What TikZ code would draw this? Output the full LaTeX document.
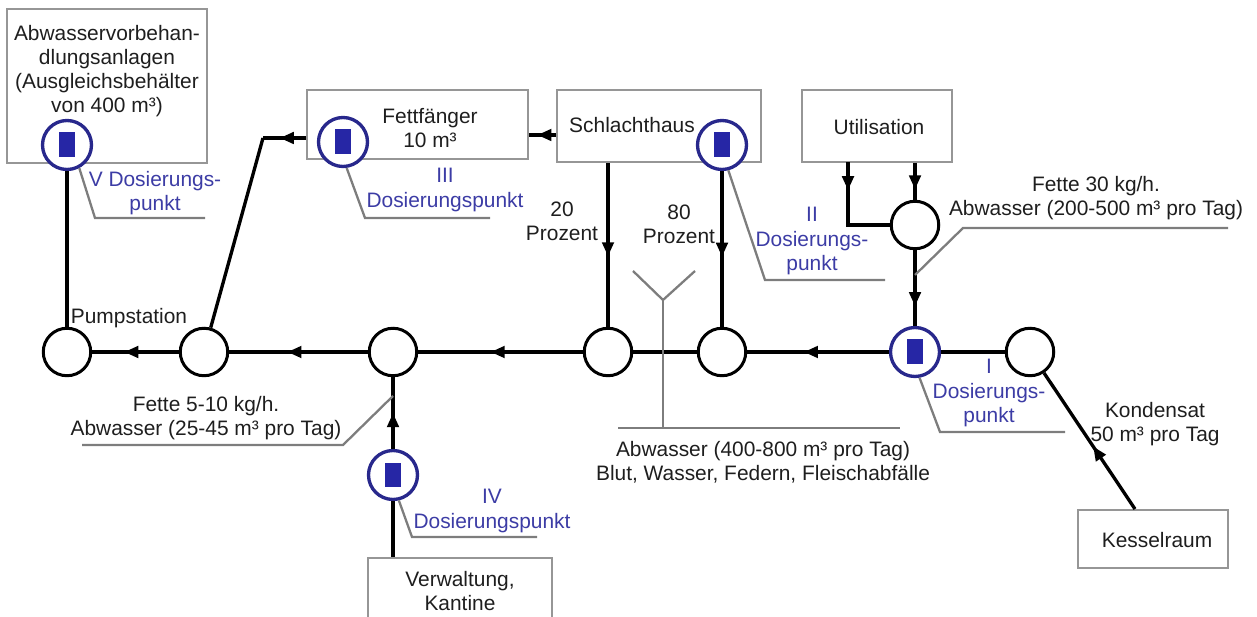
\documentclass[tikz,border=0pt]{standalone}
\usepackage{fontspec}
\setmainfont{Liberation Sans}
\usetikzlibrary{arrows.meta,decorations.markings}
\definecolor{dblue}{RGB}{40,40,140}
\definecolor{dfill}{RGB}{38,38,165}
\definecolor{dtext}{RGB}{60,60,165}
\definecolor{lgray}{RGB}{125,125,125}
\definecolor{bgray}{RGB}{150,150,150}
\definecolor{tgray}{RGB}{30,30,30}
\begin{document}
\begin{tikzpicture}[x=0.02cm,y=-0.02cm,
  box/.style={draw=bgray, line width=1.1pt, inner sep=0pt},
  pipe/.style={line width=1.9pt},
  junc/.style={circle, draw, line width=1.7pt, fill=white, minimum size=0.95cm, inner sep=0pt},
  dose/.style={circle, draw=dblue, line width=1.9pt, fill=white, minimum size=0.98cm, inner sep=0pt,
    path picture={\fill[dfill] (path picture bounding box.center) ++(-0.16cm,-0.25cm) rectangle ++(0.32cm,0.5cm);}},
  flow/.style={postaction={decorate}, decoration={markings, mark=at position #1 with {\arrow{Triangle[length=8pt,width=6.5pt]}}}},
  lead/.style={draw=lgray, line width=1.3pt},
  txt/.style={align=center, font=\fontsize{11.9}{13.8}\selectfont, inner sep=0pt, text=tgray},
  btxt/.style={txt, text=dtext},
]
\useasboundingbox (0,0) rectangle (1257,617);
\clip (0,0) rectangle (1257,617);

% boxes
\node[box, minimum width=4cm, minimum height=3.08cm] (avb) at (107,86) {};
\node[txt] (avbt) at (107,71) {Abwasservorbehan-\\dlungsanlagen\\(Ausgleichsbehälter\\von 400 m³)};
\node[box, minimum width=4.42cm, minimum height=1.38cm] (fett) at (417.5,124.5) {};
\node[txt] (fettt) at (430,128) {Fettfänger\\10 m³};
\node[box, minimum width=4.08cm, minimum height=1.44cm] (schl) at (659,126) {};
\node[txt] (schlt) at (632,125) {Schlachthaus};
\node[box, minimum width=3cm, minimum height=1.44cm] (util) at (877,126) {};
\node[txt] (utilt) at (879,127) {Utilisation};
\node[box, minimum width=3cm, minimum height=1.16cm] (kessel) at (1153,539) {};
\node[txt] (kesselt) at (1157,540) {Kesselraum};
\node[box, minimum width=3.68cm, minimum height=1.64cm] (verw) at (460,599) {};
\node[txt] (verwt) at (460,591) {Verwaltung,\\Kantine};

% junction circles
\node[junc] (c1) at (67,352) {};
\node[junc] (c2) at (204,352) {};
\node[junc] (c3) at (393,352) {};
\node[junc] (c4) at (608,352) {};
\node[junc] (c5) at (722,352) {};
\node[junc] (c6) at (1030,352) {};
\node[junc] (cu) at (915,225) {};

% dosing points
\node[dose] (dV) at (67,145) {};
\node[dose] (dIII) at (343,142) {};
\node[dose] (dII) at (722,145) {};
\node[dose] (dI) at (915,352) {};
\node[dose] (dIV) at (393,475) {};

% helper coordinates
\coordinate (sfy) at (0,135);
\coordinate (fk) at (263,138);
\coordinate (ul) at (848,162);

% pipes
\draw[pipe] (dV.south) -- (c1.north);
\draw[pipe,flow=0.63] (c2.west) -- (c1.east);
\draw[pipe,flow=0.58] (c3.west) -- (c2.east);
\draw[pipe,flow=0.56] (c4.west) -- (c3.east);
\draw[pipe] (c5.west) -- (c4.east);
\draw[pipe,flow=0.6] (dI.west) -- (c5.east);
\draw[pipe] (c6.west) -- (dI.east);
\draw[pipe,flow=0.46] ([xshift=-0.36cm]kessel.north) -- (c6);
\draw[pipe,flow=0.57] (c4.north |- schl.south) -- (c4.north);
\draw[pipe,flow=0.55] (dII.south) -- (c5.north);
\draw[pipe,flow=0.69] (schl.west |- sfy) -- (fett.east |- sfy);
\draw[pipe,flow=0.61] (fett.west |- fk) -- (fk);
\draw[pipe] (fk) -- (c2);
\draw[pipe,flow=0.27] (ul) |- (cu.west);
\draw[pipe,flow=0.72] (cu.north |- util.south) -- (cu.north);
\draw[pipe,flow=0.74] (cu.south) -- (dI.north);
\draw[pipe,flow=0.5] (dIV.north) -- (c3.south);
\draw[pipe] (verw.north -| dIV) -- (dIV.south);

% leaders
\draw[lead] (dV.-62) -- (95,218) -- (205,218);
\draw[lead] (dIII.-82) -- (365,218) -- (490,218);
\draw[lead] (dII.-76) -- (765,280) -- (885,280);
\draw[lead] (dI.-80) -- (940,432) -- (1065,432);
\draw[lead] (dIV.-77) -- (412,537) -- (537,537);
\coordinate (ua) at (915,275);
\draw[lead] (ua) -- (963,228) -- (1228,228);
\coordinate (fa) at (393,396);
\draw[lead] (fa) -- (343,445) -- (82,445);
\coordinate (ya) at (663,300);
\draw[lead] (633,271) -- (ya) -- (695,271);
\draw[lead] (ya) -- (663,428);
\draw[lead] (618,428) -- (900,428);

% labels
\node[btxt] (lV) at (155,193) {V Dosierungs-\\punkt};
\node[btxt] (lIII) at (445,190) {III\\Dosierungspunkt};
\node[btxt] (lII) at (812,241) {II\\Dosierungs-\\punkt};
\node[btxt] (lI) at (989,393) {I\\Dosierungs-\\punkt};
\node[btxt] (lIV) at (492,511) {IV\\Dosierungspunkt};
\node[txt] (lpump) at (129,318) {Pumpstation};
\node[txt] (l20) at (562,221) {20\\Prozent};
\node[txt] (l80) at (679,224) {80\\Prozent};
\node[txt] (lfu) at (1096,198) {Fette 30 kg/h.\\Abwasser (200-500 m³ pro Tag)};
\node[txt] (lf5) at (206,418) {Fette 5-10 kg/h.\\Abwasser (25-45 m³ pro Tag)};
\node[txt] (lab) at (763,462) {Abwasser (400-800 m³ pro Tag)\\Blut, Wasser, Federn, Fleischabfälle};
\node[txt] (lk) at (1155,424) {Kondensat\\50 m³ pro Tag};
\end{tikzpicture}
\end{document}
